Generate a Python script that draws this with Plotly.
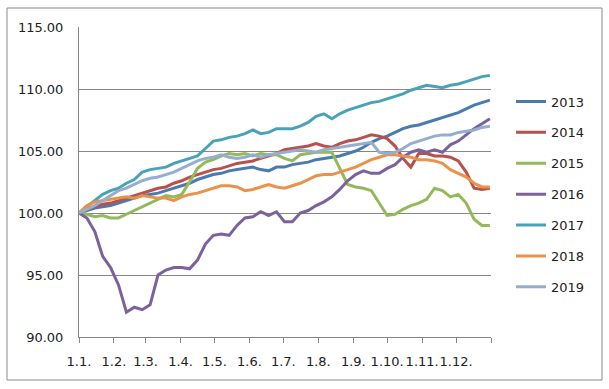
import plotly.graph_objects as go

# day-of-year positions (weekly samples)
days = list(range(0, 365, 7))

s2013 = [100.0, 100.2, 100.4, 100.5, 100.6, 100.8, 101.0, 101.2, 101.4, 101.5, 101.6, 101.8, 102.0, 102.2,
         102.4, 102.7, 102.9, 103.1, 103.2, 103.4, 103.5, 103.6, 103.7, 103.5, 103.4, 103.7, 103.7, 103.9,
         104.0, 104.1, 104.3, 104.4, 104.5, 104.6, 104.8, 105.0, 105.3, 105.7, 106.0, 106.2, 106.5, 106.8,
         107.0, 107.1, 107.3, 107.5, 107.7, 107.9, 108.1, 108.4, 108.7, 108.9, 109.1]
s2014 = [100.0, 100.3, 100.5, 100.7, 100.8, 101.0, 101.2, 101.4, 101.6, 101.8, 102.0, 102.1, 102.4, 102.6,
         102.9, 103.1, 103.3, 103.5, 103.6, 103.8, 104.0, 104.1, 104.2, 104.4, 104.6, 104.8, 105.1, 105.2,
         105.3, 105.4, 105.6, 105.4, 105.3, 105.6, 105.8, 105.9, 106.1, 106.3, 106.2, 106.0, 105.4, 104.4,
         103.7, 104.8, 104.8, 104.6, 104.6, 104.5, 104.2, 103.3, 102.0, 101.9, 102.0]
s2015 = [100.0, 99.9, 99.7, 99.8, 99.6, 99.6, 99.9, 100.2, 100.5, 100.8, 101.1, 101.4, 101.3, 101.5,
         102.5, 103.6, 104.1, 104.3, 104.6, 104.8, 104.7, 104.8, 104.6, 104.8, 104.7, 104.7, 104.4, 104.2,
         104.7, 104.8, 104.9, 104.9, 104.9, 103.6, 102.3, 102.1, 102.0, 101.8, 100.8, 99.8, 99.9, 100.3,
         100.6, 100.8, 101.1, 102.0, 101.8, 101.3, 101.5, 100.8, 99.5, 99.0, 99.0]
s2016 = [100.0, 99.6, 98.5, 96.5, 95.6, 94.2, 92.0, 92.4, 92.2, 92.6, 95.0, 95.4, 95.6, 95.6,
         95.5, 96.2, 97.5, 98.2, 98.3, 98.2, 99.0, 99.6, 99.7, 100.1, 99.8, 100.1, 99.3, 99.3,
         100.0, 100.2, 100.6, 100.9, 101.3, 101.9, 102.6, 103.1, 103.4, 103.2, 103.2, 103.6, 103.9, 104.5,
         104.9, 105.1, 104.9, 105.1, 104.9, 105.5, 105.8, 106.3, 106.8, 107.2, 107.6]
s2017 = [100.0, 100.5, 101.0, 101.5, 101.8, 102.0, 102.4, 102.7, 103.3, 103.5, 103.6, 103.7, 104.0, 104.2,
         104.4, 104.6, 105.2, 105.8, 105.9, 106.1, 106.2, 106.4, 106.7, 106.4, 106.5, 106.8, 106.8, 106.8,
         107.0, 107.3, 107.8, 108.0, 107.6, 108.0, 108.3, 108.5, 108.7, 108.9, 109.0, 109.2, 109.4, 109.6,
         109.9, 110.1, 110.3, 110.2, 110.1, 110.3, 110.4, 110.6, 110.8, 111.0, 111.1]
s2018 = [100.0, 100.6, 100.9, 101.0, 101.1, 101.2, 101.3, 101.2, 101.4, 101.3, 101.2, 101.2, 101.0, 101.3,
         101.5, 101.6, 101.8, 102.0, 102.2, 102.2, 102.1, 101.8, 101.9, 102.1, 102.3, 102.1, 102.0, 102.2,
         102.4, 102.7, 103.0, 103.1, 103.1, 103.3, 103.5, 103.7, 104.0, 104.3, 104.5, 104.7, 104.7, 104.6,
         104.5, 104.3, 104.3, 104.2, 104.0, 103.5, 103.2, 102.9, 102.4, 102.1, 102.1]
s2019 = [100.0, 100.3, 100.6, 101.0, 101.4, 101.8, 102.0, 102.3, 102.6, 102.8, 102.9, 103.1, 103.3, 103.6,
         103.9, 104.2, 104.4, 104.5, 104.7, 104.5, 104.4, 104.5, 104.7, 104.5, 104.7, 104.8, 104.9, 105.0,
         105.1, 105.0, 104.9, 105.1, 105.2, 105.3, 105.4, 105.5, 105.6, 105.7, 104.9, 104.8, 104.9, 105.2,
         105.6, 105.8, 106.0, 106.2, 106.3, 106.3, 106.5, 106.6, 106.7, 106.9, 107.0]

series_names = ["2013", "2014", "2015", "2016", "2017", "2018", "2019"]
series_values = [s2013, s2014, s2015, s2016, s2017, s2018, s2019]
colors = ["#4A7BB0", "#B8504B", "#94B95A", "#7B629C", "#4AA2B8", "#E8924A", "#95AED0"]

month_ticks = [0, 31, 59, 90, 120, 151, 181, 212, 243, 273, 304, 334, 365]
month_labels = ["1.1.", "1.2.", "1.3.", "1.4.", "1.5.", "1.6.", "1.7.", "1.8.", "1.9.",
                "1.10.", "1.11.", "1.12.", ""]
y_ticks = [90, 95, 100, 105, 110, 115]

fig = go.Figure()
for name, vals, col in zip(series_names, series_values, colors):
    fig.add_trace(go.Scatter(x=days, y=vals, mode="lines", name=name, legendgroup=name,
                             line=dict(color=col, width=3)))

W, H = 609, 389
L, R, T, B = 79, 491, 27, 337
pw, ph = R - L, B - T

fig.update_layout(
    width=W, height=H,
    margin=dict(l=L, r=W - R, t=T, b=H - B, pad=0, autoexpand=False),
    paper_bgcolor="white", plot_bgcolor="white",
    font=dict(family="DejaVu Sans", size=13, color="#222222"),
    showlegend=True,
    legend=dict(x=(511 - L) / pw, xanchor="left", y=(B - 194.5) / ph, yanchor="middle",
                font=dict(size=13, color="#222222"), tracegroupgap=11,
                bgcolor="rgba(0,0,0,0)", itemwidth=30),
    xaxis=dict(range=[0, 365], tickmode="array", tickvals=month_ticks, ticktext=month_labels,
               tickangle=0, automargin=False,
               showgrid=False, zeroline=False, showline=True, linecolor="#878787", linewidth=1,
               ticks="outside", ticklen=5, tickcolor="#878787", tickwidth=1,
               ticklabelstandoff=7, fixedrange=True),
    yaxis=dict(range=[90, 115], tickmode="array", tickvals=y_ticks, tickformat=".2f",
               automargin=False,
               showgrid=True, gridcolor="#878787", gridwidth=1, zeroline=False,
               showline=True, linecolor="#878787", linewidth=1, ticks="",
               ticklabelstandoff=12, fixedrange=True),
    shapes=[dict(type="rect", xref="paper", yref="paper",
                 x0=(7 - L) / pw, x1=(602 - L) / pw,
                 y0=(B - 380) / ph, y1=(B - 8) / ph,
                 line=dict(color="#8A8A8A", width=1), fillcolor="rgba(0,0,0,0)", layer="below")],
)

fig.write_html("out.html", config={"displayModeBar": False},
               post_script="document.body.style.margin='0';document.body.style.overflow='hidden';")
